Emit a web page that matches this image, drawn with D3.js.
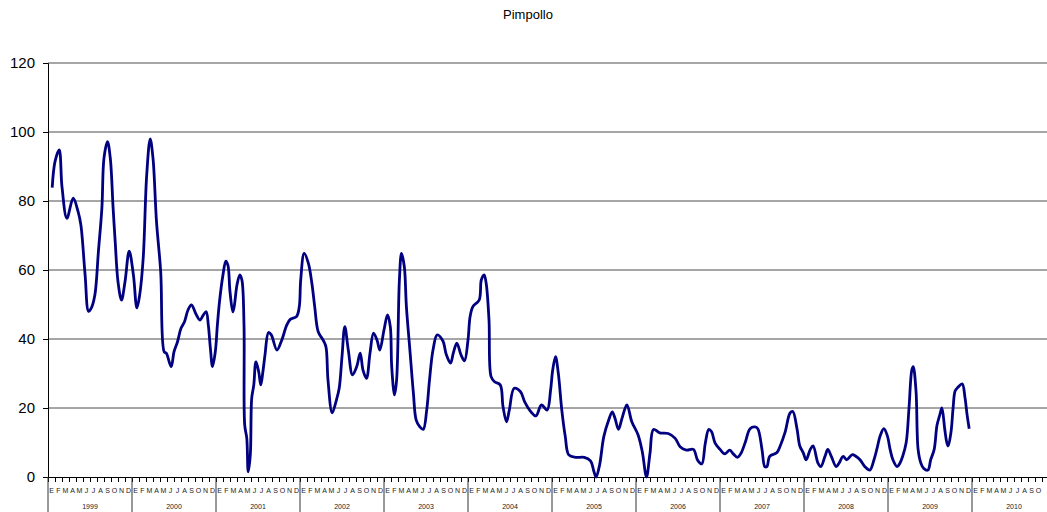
<!DOCTYPE html>
<html>
<head>
<meta charset="utf-8">
<script src="https://cdn.jsdelivr.net/npm/d3@7"></script>
<style>
  body { margin: 0; background: #fff; }
  svg { display: block; font-family: "Liberation Sans", Arial, sans-serif; }
  .grid line { stroke: #4d4d4d; stroke-width: 1; }
  .domain { stroke: #000; }
</style>
</head>
<body>
<div id="chart"></div>
<script>
var width = 1047;
var height = 512;

// months counted from January 1999 (fractional)
var months = [0.6,1.0,1.6,2.0,2.7,3.6,4.3,4.7,5.3,5.8,6.2,6.7,7.2,7.7,8.0,8.5,8.9,9.3,9.6,10.0,
  10.5,11.0,11.6,12.2,12.7,13.1,13.6,14.1,14.6,15.0,15.5,16.1,16.6,16.9,17.6,18.0,18.5,19.0,19.5,20.0,
  20.5,21.1,21.7,22.2,22.6,22.9,23.2,23.5,23.9,24.2,24.5,25.0,25.4,25.7,26.0,26.4,26.6,27.0,27.4,27.7,
  28.0,28.1,28.4,28.6,28.9,29.1,29.4,29.7,30.1,30.4,30.7,31.0,31.5,31.9,32.7,33.4,34.1,34.6,35.5,35.9,
  36.1,36.6,37.2,37.7,38.1,38.6,39.3,39.7,40.0,40.6,41.2,41.6,42.0,42.4,42.9,43.5,44.1,44.6,45.0,45.5,
  46.0,46.5,47.0,47.4,48.0,48.5,48.9,49.1,49.5,49.8,50.2,50.5,50.9,51.2,51.7,52.2,52.6,53.1,53.6,54.1,
  54.5,55.0,55.6,56.4,56.9,57.5,57.9,58.4,59.0,59.5,60.0,60.3,60.7,61.6,61.9,62.3,62.6,63.0,63.3,63.8,
  64.6,65.0,65.5,65.9,66.6,67.5,68.1,69.0,69.7,70.5,71.3,71.8,72.1,72.5,72.9,73.4,73.9,74.4,75.4,76.6,
  77.5,78.0,78.3,78.8,79.4,80.1,80.6,81.0,81.5,82.0,82.7,83.4,84.3,84.9,85.5,86.0,86.5,87.4,88.6,89.6,
  90.3,91.2,92.2,92.8,93.4,93.9,94.4,94.8,95.3,96.0,96.7,97.4,97.9,98.5,99.0,99.6,100.3,101.0,101.4,102.0,
  102.4,102.7,103.1,104.1,104.6,105.3,106.0,106.4,107.0,107.4,107.9,108.3,108.9,109.3,110.0,110.4,111.0,111.4,111.9,112.6,
  113.0,113.6,114.1,114.9,115.4,116.0,116.7,117.4,118.0,118.4,118.9,119.4,119.9,120.3,120.7,121.3,121.7,122.1,122.6,123.0,
  123.4,123.6,124.0,124.3,124.7,125.1,125.7,126.1,126.6,127.0,127.4,127.7,128.1,128.4,128.6,129.0,129.3,129.6,130.0,130.6,
  131.0,131.3,131.6];

var values = [83.9,91.4,94.8,84.1,75,80.8,76.9,73,58.6,48,49,52.8,65.3,78,92.5,97.2,92.4,78,68.2,56.6,
  51.3,56.6,65.5,58.6,49,52.8,63.4,87.5,98,92.4,74,59.5,36.3,35.9,32,36.3,39.2,43.1,45,48.4,
  49.9,47.4,45.5,47,47.9,44.1,37.3,32,36.3,44.1,50.8,58.6,62.6,61.4,53.7,47.9,49.4,55.7,58.6,57.1,
  44.1,15.1,11.2,1.5,6.4,22.8,26.7,33.4,30.5,26.7,30.5,35.4,41.9,41.2,36.8,39.7,44,45.7,46.5,49.4,
  57.1,64.8,61.9,56.1,49.4,42.1,39.7,37.8,28.1,18.6,22.3,25.7,34.9,43.6,36.8,29.6,32,35.9,31,28.6,
  35.9,41.7,39.7,36.8,42.6,47,43.6,32,23.8,28.1,57.1,64.8,61,49.4,36.8,24.3,16.5,14.6,13.8,19.4,
  28.1,36.8,41.2,39.5,35.5,33,35.9,38.8,35.4,33.7,39.7,46.5,49.4,51.3,57.1,58.6,56.1,45.5,29.1,27.6,
  26.7,20.4,16,19.4,25.7,24.7,21.8,18.9,17.7,20.9,19.4,25.2,31,34.9,30.1,19.4,11.7,6.4,5.7,5.7,
  4.7,1.5,0,3.5,11.7,16.5,18.9,17,13.8,17,20.9,16,12.2,7.3,0,6.9,13.8,12.8,12.6,11.2,
  8.8,7.8,8,4.9,3.8,9.8,13.8,13.1,9.8,8,6.7,7.8,6.7,5.7,6.9,10,14,14.5,14,8,
  3,3,6,7,9,13,18.5,19,14,9,7,5,8,9,4,3,6,8,6,3,
  4,6,5,6.5,6,5,3,2,5,8,12,14,12,8,5,3,4,6,10,20,
  31,32,25,8,4,2.5,2,5,8,15,18,20,14,10,9,13,20,25,26,27,
  23,18,14];

var years = [1999,2000,2001,2002,2003,2004,2005,2006,2007,2008,2009,2010];
var monthLetters = ["E","F","M","A","M","J","J","A","S","O","N","D"];
var yTicks = [0,20,40,60,80,100,120];
var title = "Pimpollo";

var margin = {left: 48, top: 63, bottom: 477};

var x = d3.scaleLinear().domain([0, years.length * 12]).range([margin.left, margin.left + years.length * 12 * 7]);
var y = d3.scaleLinear().domain([0, 120]).range([margin.bottom, margin.top]);

var svg = d3.select("#chart").append("svg")
  .attr("width", width)
  .attr("height", height);

svg.append("text")
  .attr("x", 528)
  .attr("y", 19)
  .attr("text-anchor", "middle")
  .attr("font-size", "13px")
  .text(title);

// horizontal gridlines
svg.append("g")
  .attr("class", "grid")
  .selectAll("line")
  .data(yTicks.filter(function (d) { return d > 0; }))
  .enter().append("line")
  .attr("x1", margin.left)
  .attr("x2", width)
  .attr("y1", function (d) { return y(d); })
  .attr("y2", function (d) { return y(d); });

// y axis
var yAxis = d3.axisLeft(y).tickValues(yTicks).tickSize(5).tickPadding(8);
var gy = svg.append("g")
  .attr("transform", "translate(" + margin.left + ",0)")
  .call(yAxis);
gy.selectAll("text").attr("font-size", "15px").attr("fill", "#000").attr("font-family", "Liberation Sans, Arial, sans-serif");
gy.selectAll("line").attr("stroke", "#000");

// x axis with monthly ticks
var xAxis = d3.axisBottom(x).tickValues(d3.range(0, years.length * 12 + 1)).tickSize(5).tickFormat("");
var gx = svg.append("g")
  .attr("transform", "translate(0," + margin.bottom + ")")
  .call(xAxis);
gx.selectAll("line").attr("stroke", "#000");

// year separators
svg.append("g")
  .selectAll("line")
  .data(years)
  .enter().append("line")
  .attr("x1", function (d, i) { return x(i * 12); })
  .attr("x2", function (d, i) { return x(i * 12); })
  .attr("y1", margin.bottom)
  .attr("y2", height)
  .attr("stroke", "#333")
  .attr("stroke-width", 1);

// month letters (only those that fit inside the picture)
var monthData = [];
years.forEach(function (yr, i) {
  monthLetters.forEach(function (m, j) {
    monthData.push({label: m, t: i * 12 + j + 0.5});
  });
});
monthData = monthData.filter(function (d) { return x(d.t) < width - 4; });
svg.append("g")
  .selectAll("text")
  .data(monthData)
  .enter().append("text")
  .attr("x", function (d) { return x(d.t); })
  .attr("y", 493)
  .attr("text-anchor", "middle")
  .attr("font-size", "7px")
  .attr("fill", "#222")
  .text(function (d) { return d.label; });

// year labels
svg.append("g")
  .selectAll("text")
  .data(years)
  .enter().append("text")
  .attr("x", function (d, i) { return x(i * 12 + 6); })
  .attr("y", 509)
  .attr("text-anchor", "middle")
  .attr("font-size", "7px")
  .attr("fill", "#222")
  .text(function (d) { return d; });

// series
var points = months.map(function (m, i) { return [m, values[i]]; });
var line = d3.line()
  .x(function (d) { return x(d[0]); })
  .y(function (d) { return y(d[1]); })
  .curve(d3.curveCatmullRom.alpha(0.5));

svg.append("path")
  .datum(points)
  .attr("fill", "none")
  .attr("stroke", "#000080")
  .attr("stroke-width", 2.8)
  .attr("stroke-linejoin", "round")
  .attr("d", line);
</script>
</body>
</html>
